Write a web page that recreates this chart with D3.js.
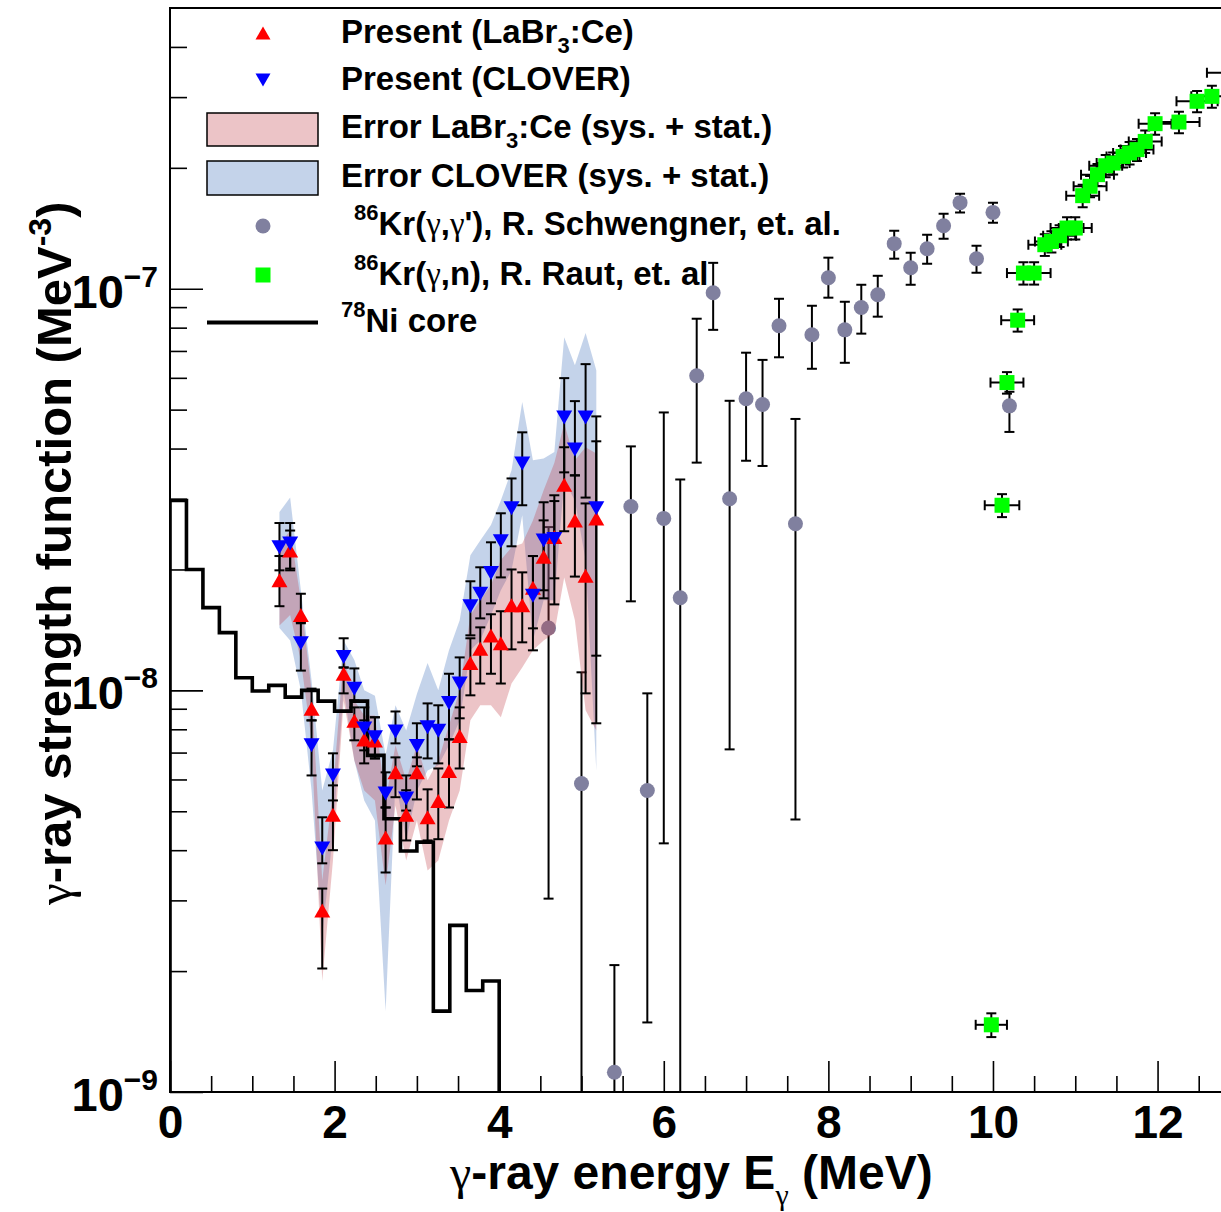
<!DOCTYPE html>
<html>
<head>
<meta charset="utf-8">
<script src="https://cdn.jsdelivr.net/npm/d3@7"></script>
<style>
  html, body { margin: 0; padding: 0; background: #fff; }
  svg { display: block; }
  text { font-family: "Liberation Sans", Arial, Helvetica, sans-serif; font-weight: bold; fill: #000; }
  .greek { font-family: "Liberation Serif", "DejaVu Serif", serif; font-weight: normal; }
</style>
</head>
<body>
<svg id="chart" width="1221" height="1212"></svg>
<script>
// ---------------- data ----------------
// Present measurement: gamma energies (MeV), shared by both detector sets
const energy = [1.33, 1.46, 1.59, 1.72, 1.85, 1.98, 2.11, 2.24, 2.36, 2.49, 2.62, 2.74, 2.87, 3.00, 3.13, 3.26,
                3.39, 3.52, 3.65, 3.77, 3.90, 4.02, 4.15, 4.28, 4.41, 4.54, 4.67, 4.79, 4.92, 5.05, 5.18];

// LaBr3:Ce strength (MeV^-3) with error-bar limits
const labrVal = [1.88e-8, 2.23e-8, 1.54e-8, 9.0e-9, 2.83e-9, 4.9e-9, 1.10e-8, 8.4e-9, 7.55e-9, 7.5e-9, 4.3e-9,
                 6.25e-9, 4.9e-9, 6.25e-9, 4.83e-9, 5.3e-9, 6.3e-9, 7.7e-9, 1.17e-8, 1.27e-8, 1.37e-8, 1.31e-8,
                 1.63e-8, 1.63e-8, 1.80e-8, 2.15e-8, 2.41e-8, 3.25e-8, 2.65e-8, 1.93e-8, 2.68e-8];
const labrHi  = [2.16e-8, 2.50e-8, 1.74e-8, 1.01e-8, 3.21e-9, 5.80e-9, 1.14e-8, 9.07e-9, 8.42e-9, 8.57e-9, 5.11e-9,
                 6.81e-9, 5.64e-9, 6.81e-9, 5.67e-9, 6.39e-9, 7.55e-9, 9.07e-9, 1.348e-8, 1.435e-8, 1.547e-8, 1.574e-8,
                 2.00e-8, 1.967e-8, 2.16e-8, 2.65e-8, 2.96e-8, 4.03e-8, 3.43e-8, 2.92e-8, 4.17e-8];
const labrLo  = [1.62e-8, 1.99e-8, 1.48e-8, 8.42e-9, 2.03e-9, 4.00e-9, 9.83e-9, 7.51e-9, 6.58e-9, 6.77e-9, 3.52e-9,
                 5.42e-9, 4.23e-9, 5.35e-9, 4.23e-9, 4.26e-9, 5.11e-9, 6.39e-9, 9.72e-9, 1.04e-8, 1.10e-8, 1.04e-8,
                 1.265e-8, 1.317e-8, 1.427e-8, 1.695e-8, 1.637e-8, 2.49e-8, 1.92e-8, 9.83e-9, 8.28e-9];
// LaBr3:Ce systematic + statistical band
const labrBandHi = [2.30e-8, 2.50e-8, 1.676e-8, 1.0e-8, 3.36e-9, 5.63e-9, 1.22e-8, 9.44e-9, 8.66e-9, 8.66e-9, 5.32e-9,
                    7.3e-9, 5.97e-9, 7.3e-9, 5.97e-9, 6.69e-9, 8.18e-9, 1.0e-8, 1.54e-8, 1.676e-8, 1.83e-8, 2.11e-8,
                    2.27e-8, 2.32e-8, 2.65e-8, 3.15e-8, 3.68e-8, 4.62e-8, 3.74e-8, 4.03e-8, 3.89e-8];
const labrBandLo = [1.45e-8, 1.54e-8, 1.188e-8, 7.51e-9, 1.89e-9, 3.77e-9, 9.44e-9, 6.69e-9, 5.63e-9, 5.32e-9, 3.27e-9,
                    5.17e-9, 3.77e-9, 4.74e-9, 3.56e-9, 3.77e-9, 4.74e-9, 5.63e-9, 8.42e-9, 9.18e-9, 9.18e-9, 8.57e-9,
                    1.04e-8, 1.14e-8, 1.258e-8, 1.33e-8, 1.387e-8, 1.91e-8, 1.494e-8, 8.92e-9, 7.95e-9];

// CLOVER strength (MeV^-3) with error-bar limits
const cloverVal = [2.27e-8, 2.32e-8, 1.31e-8, 7.3e-9, 4.04e-9, 6.14e-9, 1.21e-8, 1.01e-8, 8.04e-9, 7.64e-9, 5.54e-9,
                   7.9e-9, 5.38e-9, 7.27e-9, 8.09e-9, 7.93e-9, 9.3e-9, 1.04e-8, 1.62e-8, 1.74e-8, 1.96e-8, 2.35e-8,
                   2.84e-8, 3.67e-8, 1.72e-8, 2.36e-8, 2.38e-8, 4.78e-8, 3.98e-8, 4.78e-8, 2.84e-8];
const cloverHi  = [2.61e-8, 2.61e-8, 1.469e-8, 8.42e-9, 4.83e-9, 6.97e-9, 1.348e-8, 1.134e-8, 9.07e-9, 8.57e-9, 6.25e-9,
                   8.86e-9, 6.14e-9, 8.28e-9, 9.28e-9, 9.18e-9, 1.10e-8, 1.208e-8, 1.869e-8, 2.025e-8, 2.337e-8, 2.76e-8,
                   3.37e-8, 4.39e-8, 2.16e-8, 2.94e-8, 3.06e-8, 5.99e-8, 5.25e-8, 6.49e-8, 4.81e-8];
const cloverLo  = [1.99e-8, 2.01e-8, 1.12e-8, 6.14e-9, 3.71e-9, 5.32e-9, 1.14e-8, 9.44e-9, 7.09e-9, 6.77e-9, 5.11e-9,
                   7.38e-9, 5.02e-9, 6.47e-9, 6.77e-9, 6.58e-9, 7.55e-9, 8.52e-9, 1.371e-8, 1.511e-8, 1.647e-8, 1.911e-8,
                   2.284e-8, 2.89e-8, 1.258e-8, 1.775e-8, 1.901e-8, 3.49e-8, 3.43e-8, 3.02e-8, 1.22e-8];
// CLOVER systematic + statistical band
const cloverBandHi = [2.78e-8, 3.02e-8, 1.775e-8, 1.06e-8, 5.63e-9, 7.09e-9, 1.33e-8, 1.19e-8, 1.0e-8, 9.7e-9, 6.9e-9,
                      9.18e-9, 7.95e-9, 9.8e-9, 1.17e-8, 1.0e-8, 1.258e-8, 1.494e-8, 2.17e-8, 2.36e-8, 2.58e-8, 2.97e-8,
                      3.53e-8, 5.22e-8, 3.74e-8, 3.78e-8, 3.92e-8, 7.57e-8, 6.45e-8, 7.76e-8, 6.27e-8];
const cloverBandLo = [1.43e-8, 1.33e-8, 1.0e-8, 5.63e-9, 2.45e-9, 4.4e-9, 1.0e-8, 6.69e-9, 5.32e-9, 4.74e-9, 1.59e-9,
                      5.97e-9, 4.23e-9, 5.63e-9, 6.32e-9, 6.5e-9, 7.3e-9, 8.42e-9, 1.258e-8, 1.33e-8, 1.54e-8, 1.775e-8,
                      1.99e-8, 2.73e-8, 1.33e-8, 1.676e-8, 1.676e-8, 3.33e-8, 2.97e-8, 2.11e-8, 6.32e-9];

// 86Kr(gamma,gamma') — Schwengner et al.  (lower limit 0 means the bar runs off the axis)
const schwE   = [4.6, 5.0, 5.4, 5.6, 5.8, 6.0, 6.2, 6.4, 6.6, 6.8, 7.0, 7.2, 7.4, 7.6, 7.8, 8.0, 8.2, 8.4, 8.6, 8.8,
                 9.0, 9.2, 9.4, 9.6, 9.8, 10.0, 10.2];
const schwVal = [1.43e-8, 5.86e-9, 1.12e-9, 2.87e-8, 5.63e-9, 2.68e-8, 1.70e-8, 6.07e-8, 9.77e-8, 3.0e-8, 5.32e-8,
                 5.15e-8, 8.09e-8, 2.60e-8, 7.68e-8, 1.065e-7, 7.9e-8, 8.98e-8, 9.66e-8, 1.295e-7, 1.128e-7, 1.258e-7,
                 1.435e-7, 1.638e-7, 1.188e-7, 1.549e-7, 5.11e-8];
const schwHi  = [2.55e-8, 1.109e-8, 2.07e-9, 4.05e-8, 9.83e-9, 4.92e-8, 3.35e-8, 8.42e-8, 1.16e-7, 5.26e-8, 6.93e-8,
                 6.65e-8, 9.44e-8, 4.74e-8, 9.07e-8, 1.195e-7, 9.28e-8, 1.023e-7, 1.077e-7, 1.394e-7, 1.229e-7, 1.363e-7,
                 1.538e-7, 1.725e-7, 1.28e-7, 1.638e-7, 5.54e-8];
const schwLo  = [3.03e-9, 0, 0, 1.666e-8, 1.49e-9, 4.16e-9, 0, 3.69e-8, 7.9e-8, 7.13e-9, 3.73e-8, 3.62e-8, 6.75e-8,
                 4.77e-9, 6.32e-8, 9.5e-8, 6.54e-8, 7.73e-8, 8.52e-8, 1.188e-7, 1.023e-7, 1.154e-7, 1.332e-7, 1.547e-7,
                 1.096e-7, 1.46e-7, 4.4e-8];

// 86Kr(gamma,n) — Raut et al.
const rautE    = [9.98, 10.11, 10.17, 10.30, 10.37, 10.50, 10.63, 10.71, 10.81, 10.90, 11.00, 11.09, 11.18, 11.27,
                  11.37, 11.46, 11.58, 11.66, 11.75, 11.85, 11.97, 12.26, 12.48, 12.66, 12.90];
const rautVal  = [1.47e-9, 2.89e-8, 5.84e-8, 8.35e-8, 1.094e-7, 1.094e-7, 1.287e-7, 1.311e-7, 1.355e-7, 1.416e-7,
                  1.416e-7, 1.705e-7, 1.799e-7, 1.923e-7, 2.024e-7, 2.055e-7, 2.135e-7, 2.178e-7, 2.22e-7, 2.327e-7,
                  2.576e-7, 2.60e-7, 2.929e-7, 3.013e-7, 3.45e-7];
const rautErrY = [1.0e-10, 1.9e-9, 3.6e-9, 5.3e-9, 7.0e-9, 7.0e-9, 8.0e-9, 8.0e-9, 8.5e-9, 9.0e-9, 9.0e-9, 1.1e-8,
                  1.1e-8, 1.2e-8, 1.3e-8, 1.3e-8, 1.3e-8, 1.4e-8, 1.4e-8, 1.5e-8, 1.6e-8, 1.6e-8, 1.8e-8, 1.9e-8, 2.1e-8];
const rautErrX = [0.19, 0.21, 0.20, 0.20, 0.20, 0.20, 0.20, 0.20, 0.20, 0.20, 0.20, 0.20, 0.20, 0.20, 0.20, 0.20,
                  0.20, 0.20, 0.20, 0.20, 0.20, 0.25, 0.25, 0.25, 0.30];

// 78Ni core calculation: histogram bin edges (MeV) and contents
const niEdges = [0.0, 0.2, 0.4, 0.6, 0.8, 1.0, 1.2, 1.4, 1.6, 1.8, 2.0, 2.2, 2.4, 2.6, 2.8, 3.0, 3.2, 3.4, 3.6, 3.8, 4.0];
const niVal   = [2.97e-8, 2.0e-8, 1.607e-8, 1.392e-8, 1.075e-8, 9.96e-9, 1.029e-8, 9.62e-9, 1.0e-8, 9.4e-9,
                 8.88e-9, 9.4e-9, 6.89e-9, 4.79e-9, 3.98e-9, 4.19e-9, 1.59e-9, 2.60e-9, 1.79e-9, 1.89e-9];

// axes
const xMajorTicks = [0, 2, 4, 6, 8, 10, 12];
const yMajorExp   = [-9, -8, -7];

// ---------------- layout ----------------
const svg = d3.select("#chart");
const frameL = 170, frameT = 8, frameB = 1092, frameR = 1223.4;
const x = d3.scaleLinear().domain([0, 12.8]).range([frameL, frameR]);
const y = d3.scaleLog().domain([1e-9, 5e-7]).range([frameB, frameT]);
const yc = v => y(Math.max(v, 1e-11));

svg.append("rect").attr("width", 1221).attr("height", 1212).attr("fill", "#fff");
svg.append("defs").append("clipPath").attr("id", "plotArea")
  .append("rect").attr("x", frameL).attr("y", frameT).attr("width", frameR - frameL).attr("height", frameB - frameT);

const plot = svg.append("g").attr("clip-path", "url(#plotArea)");

const CAP = 5;
function vBar(g, xp, y1, y2) {
  g.append("line").attr("x1", xp).attr("x2", xp).attr("y1", y1).attr("y2", y2);
  g.append("line").attr("x1", xp - CAP).attr("x2", xp + CAP).attr("y1", y1).attr("y2", y1);
  g.append("line").attr("x1", xp - CAP).attr("x2", xp + CAP).attr("y1", y2).attr("y2", y2);
}
function hBar(g, x1, x2, yp) {
  g.append("line").attr("x1", x1).attr("x2", x2).attr("y1", yp).attr("y2", yp);
  g.append("line").attr("x1", x1).attr("x2", x1).attr("y1", yp - CAP).attr("y2", yp + CAP);
  g.append("line").attr("x1", x2).attr("x2", x2).attr("y1", yp - CAP).attr("y2", yp + CAP);
}
function triangle(cx, cy, up, w = 16, h = 14) {
  const p = d3.path(), s = up ? 1 : -1;
  p.moveTo(cx - w / 2, cy + s * h / 2);
  p.lineTo(cx + w / 2, cy + s * h / 2);
  p.lineTo(cx, cy - s * h / 2);
  p.closePath();
  return p.toString();
}

const GREY = "#80809f", GREEN = "#00ff00";
const PINK = "rgb(192,58,68)", BLUE = "rgb(58,108,185)";

// Schwengner (gamma,gamma') points
const schw = schwE.map((e, i) => ({ e, v: schwVal[i], hi: schwHi[i], lo: schwLo[i] }));
const gSchwBars = plot.append("g").attr("stroke", "#000").attr("stroke-width", 2);
schw.forEach(d => vBar(gSchwBars, x(d.e), yc(d.hi), d.lo > 0 ? yc(d.lo) : frameB + 20));
plot.append("g").selectAll("circle").data(schw).join("circle")
  .attr("cx", d => x(d.e)).attr("cy", d => y(d.v)).attr("r", 7.5).attr("fill", GREY);

// uncertainty bands
const band = d3.area().x(d => x(d.e)).y0(d => y(d.lo)).y1(d => y(d.hi));
const cloverBand = energy.map((e, i) => ({ e, lo: cloverBandLo[i], hi: cloverBandHi[i] }));
const labrBand = energy.map((e, i) => ({ e, lo: labrBandLo[i], hi: labrBandHi[i] }));
plot.append("path").datum(cloverBand).attr("d", band).attr("fill", BLUE).attr("fill-opacity", 0.3);
plot.append("path").datum(labrBand).attr("d", band).attr("fill", PINK).attr("fill-opacity", 0.3);

// 78Ni core histogram
const hp = d3.path();
hp.moveTo(x(niEdges[0]), frameB + 10);
niVal.forEach((v, i) => { hp.lineTo(x(niEdges[i]), y(v)); hp.lineTo(x(niEdges[i + 1]), y(v)); });
hp.lineTo(x(niEdges[niEdges.length - 1]), frameB + 10);
plot.append("path").attr("d", hp.toString()).attr("fill", "none").attr("stroke", "#000")
  .attr("stroke-width", 3.6).attr("stroke-linejoin", "miter");

// present data
const labr = energy.map((e, i) => ({ e, v: labrVal[i], hi: labrHi[i], lo: labrLo[i] }));
const clover = energy.map((e, i) => ({ e, v: cloverVal[i], hi: cloverHi[i], lo: cloverLo[i] }));
const gBars = plot.append("g").attr("stroke", "#000").attr("stroke-width", 2);
labr.forEach(d => vBar(gBars, x(d.e), y(d.hi), y(d.lo)));
clover.forEach(d => vBar(gBars, x(d.e), y(d.hi), y(d.lo)));
plot.append("g").selectAll("path").data(labr).join("path")
  .attr("d", d => triangle(x(d.e), y(d.v), true)).attr("fill", "#ff0000");
plot.append("g").selectAll("path").data(clover).join("path")
  .attr("d", d => triangle(x(d.e), y(d.v), false)).attr("fill", "#0000ff");

// Raut (gamma,n) points
const raut = rautE.map((e, i) => ({ e, v: rautVal[i], dy: rautErrY[i], dx: rautErrX[i] }));
const gRautBars = plot.append("g").attr("stroke", "#000").attr("stroke-width", 2);
raut.forEach(d => {
  vBar(gRautBars, x(d.e), y(d.v + d.dy), y(d.v - d.dy));
  hBar(gRautBars, x(d.e - d.dx), x(d.e + d.dx), y(d.v));
});
plot.append("g").selectAll("rect").data(raut).join("rect")
  .attr("x", d => x(d.e) - 7.5).attr("y", d => y(d.v) - 7.5)
  .attr("width", 15).attr("height", 15).attr("fill", GREEN);

// ---------------- axes ----------------
const xMinor = d3.range(0, 12.8, 0.5).filter(v => v % 2 !== 0);
const axX = svg.append("g").attr("transform", `translate(0,${frameB})`)
  .call(d3.axisBottom(x).tickValues(xMajorTicks).tickSize(-31).tickPadding(13).tickFormat(d3.format("d")));
axX.select(".domain").remove();
axX.selectAll("text").attr("font-size", 46).attr("font-family", null).style("font-weight", "bold");
axX.selectAll("line").attr("stroke-width", 1.6);
const axXm = svg.append("g").attr("transform", `translate(0,${frameB})`)
  .call(d3.axisBottom(x).tickValues(xMinor).tickSize(-16).tickFormat(""));
axXm.select(".domain").remove();
axXm.selectAll("line").attr("stroke-width", 1.6);

const yMajor = yMajorExp.map(p => Math.pow(10, p));
const yMinor = [];
yMajorExp.forEach(p => { for (let k = 2; k <= 9; k++) { const v = k * Math.pow(10, p); if (v < 5e-7) yMinor.push(v); } });
const axY = svg.append("g").attr("transform", `translate(${frameL},0)`)
  .call(d3.axisLeft(y).tickValues(yMajor).tickSize(-33).tickFormat(""));
axY.select(".domain").remove();
axY.selectAll("line").attr("stroke-width", 1.6);
const axYm = svg.append("g").attr("transform", `translate(${frameL},0)`)
  .call(d3.axisLeft(y).tickValues(yMinor).tickSize(-17).tickFormat(""));
axYm.select(".domain").remove();
axYm.selectAll("line").attr("stroke-width", 1.6);

yMajorExp.forEach(p => {
  const t = svg.append("text").attr("x", 158).attr("y", y(Math.pow(10, p)) + 19)
    .attr("text-anchor", "end").attr("font-size", 47);
  t.append("tspan").text("10");
  t.append("tspan").attr("font-size", 30).attr("dy", -21).text("\u2212" + Math.abs(p));
});

// frame
svg.append("rect").attr("x", frameL).attr("y", frameT).attr("width", frameR - frameL).attr("height", frameB - frameT)
  .attr("fill", "none").attr("stroke", "#000").attr("stroke-width", 2);

// axis titles
const xt = svg.append("text").attr("x", 450).attr("y", 1189).attr("font-size", 48);
xt.append("tspan").attr("class", "greek").text("\u03b3");
xt.append("tspan").text("-ray energy E");
xt.append("tspan").attr("class", "greek").attr("font-size", 30).attr("dy", 16).text("\u03b3");
xt.append("tspan").attr("dy", -16).text(" (MeV)");

const yt = svg.append("text").attr("transform", "translate(71,905) rotate(-90)").attr("font-size", 49);
yt.append("tspan").attr("class", "greek").text("\u03b3");
yt.append("tspan").text("-ray strength function (MeV");
yt.append("tspan").attr("font-size", 32).attr("dy", -20).text("-3");
yt.append("tspan").attr("dy", 20).text(")");

// ---------------- legend ----------------
const lg = svg.append("g");
const FS = 33;
lg.append("path").attr("d", triangle(263, 33, true, 15, 13)).attr("fill", "#ff0000");
lg.append("path").attr("d", triangle(263, 80, false, 15, 13)).attr("fill", "#0000ff");
lg.append("rect").attr("x", 207).attr("y", 113).attr("width", 111).attr("height", 33)
  .attr("fill", PINK).attr("fill-opacity", 0.3).attr("stroke", "#000").attr("stroke-width", 1.5);
lg.append("rect").attr("x", 207).attr("y", 161).attr("width", 111).attr("height", 34)
  .attr("fill", BLUE).attr("fill-opacity", 0.3).attr("stroke", "#000").attr("stroke-width", 1.5);
lg.append("circle").attr("cx", 263).attr("cy", 226).attr("r", 7.5).attr("fill", GREY);
lg.append("rect").attr("x", 255.5).attr("y", 267.5).attr("width", 15).attr("height", 15).attr("fill", GREEN);
lg.append("line").attr("x1", 207).attr("x2", 318).attr("y1", 322.5).attr("y2", 322.5)
  .attr("stroke", "#000").attr("stroke-width", 4);

function legendText(xp, yp) { return lg.append("text").attr("x", xp).attr("y", yp).attr("font-size", FS); }
let t;
t = legendText(341, 43);
t.append("tspan").text("Present (LaBr");
t.append("tspan").attr("font-size", 22).attr("dy", 10).text("3");
t.append("tspan").attr("dy", -10).text(":Ce)");
legendText(341, 90).text("Present (CLOVER)");
t = legendText(341, 138);
t.append("tspan").text("Error LaBr");
t.append("tspan").attr("font-size", 22).attr("dy", 10).text("3");
t.append("tspan").attr("dy", -10).text(":Ce (sys. + stat.)");
legendText(341, 187).text("Error CLOVER (sys. + stat.)");
t = legendText(354, 235);
t.append("tspan").attr("font-size", 22).attr("dy", -15).text("86");
t.append("tspan").attr("dy", 15).text("Kr(");
t.append("tspan").attr("class", "greek").text("\u03b3");
t.append("tspan").text(",");
t.append("tspan").attr("class", "greek").text("\u03b3");
t.append("tspan").text("'), R. Schwengner, et. al.");
t = legendText(354, 285);
t.append("tspan").attr("font-size", 22).attr("dy", -15).text("86");
t.append("tspan").attr("dy", 15).text("Kr(");
t.append("tspan").attr("class", "greek").text("\u03b3");
t.append("tspan").text(",n), R. Raut, et. al");
t = legendText(341, 332);
t.append("tspan").attr("font-size", 22).attr("dy", -15).text("78");
t.append("tspan").attr("dy", 15).text("Ni core");
</script>
</body>
</html>
